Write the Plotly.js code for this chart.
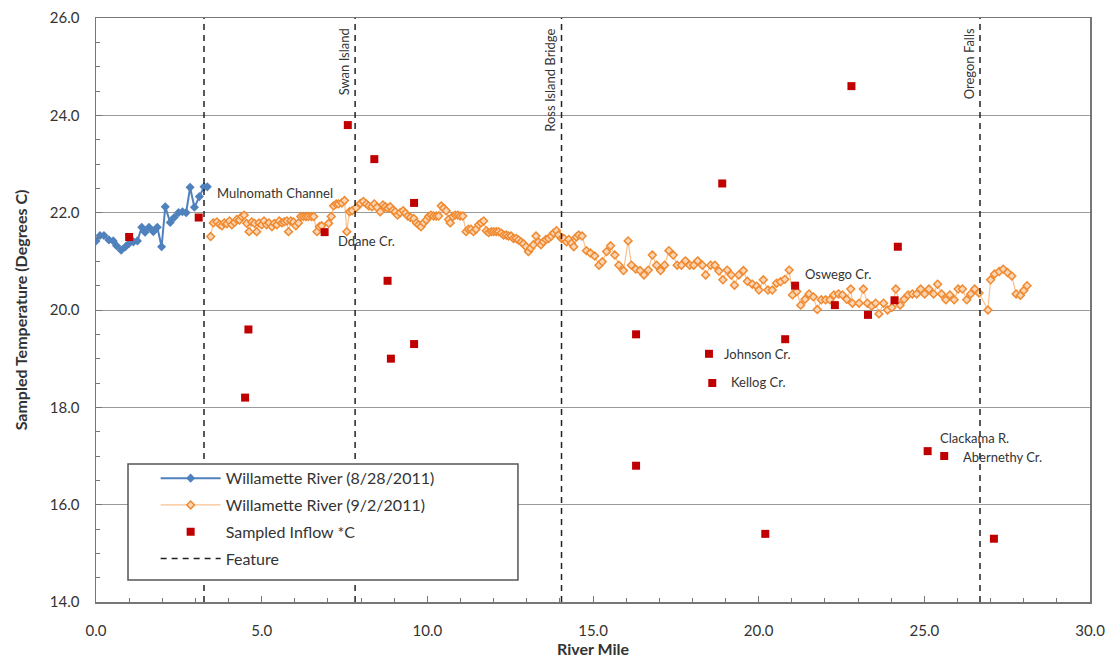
<!DOCTYPE html>
<html>
<head>
<meta charset="utf-8">
<script src="https://cdn.plot.ly/plotly-3.0.1.min.js"></script>
<style>html,body{margin:0;padding:0;background:#fff;}#chart{width:1110px;height:663px;}</style>
</head>
<body>
<div id="chart"></div>
<script>
// River mile / temperature pairs, 8/28/2011
const river0828 = [[0.0,21.42],[0.12,21.53],[0.24,21.53],[0.39,21.44],[0.52,21.42],[0.62,21.32],[0.76,21.23],[0.89,21.3],[1.0,21.37],[1.13,21.4],[1.25,21.42],[1.38,21.7],[1.48,21.6],[1.6,21.7],[1.73,21.61],[1.85,21.7],[1.98,21.3],[2.09,22.12],[2.24,21.8],[2.36,21.9],[2.49,22.0],[2.61,22.02],[2.72,22.0],[2.84,22.52],[2.97,22.11],[3.12,22.33],[3.26,22.53],[3.36,22.53]];

// River mile / temperature pairs, 9/2/2011
const river0902 = [[3.46,21.51],[3.54,21.79],[3.65,21.81],[3.73,21.76],[3.8,21.73],[3.87,21.79],[3.95,21.77],[4.03,21.83],[4.1,21.75],[4.18,21.8],[4.25,21.86],[4.33,21.85],[4.4,21.92],[4.47,21.95],[4.55,21.78],[4.62,21.61],[4.7,21.81],[4.78,21.78],[4.85,21.61],[4.92,21.79],[5.0,21.75],[5.07,21.83],[5.15,21.75],[5.22,21.79],[5.31,21.71],[5.38,21.78],[5.46,21.75],[5.53,21.83],[5.61,21.79],[5.68,21.81],[5.76,21.83],[5.81,21.61],[5.88,21.83],[5.96,21.81],[6.03,21.73],[6.11,21.79],[6.18,21.92],[6.26,21.92],[6.34,21.92],[6.41,21.92],[6.5,21.92],[6.57,21.92],[6.67,21.61],[6.74,21.71],[6.81,21.73],[7.02,21.78],[7.1,21.92],[7.17,22.14],[7.25,22.18],[7.32,22.18],[7.42,22.2],[7.5,22.25],[7.57,21.61],[7.65,22.02],[7.73,22.04],[7.85,22.1],[7.98,22.19],[8.07,22.23],[8.16,22.18],[8.23,22.14],[8.33,22.12],[8.4,22.18],[8.48,22.11],[8.58,22.02],[8.66,22.16],[8.73,22.12],[8.81,22.09],[8.88,22.12],[8.96,22.05],[9.03,22.02],
[9.1,21.95],[9.18,22.0],[9.27,22.04],[9.34,21.99],[9.41,21.93],[9.49,21.9],[9.59,21.88],[9.67,21.79],[9.74,21.75],[9.81,21.71],[9.89,21.79],[9.97,21.85],[10.04,21.92],[10.11,21.95],[10.19,21.93],[10.27,21.93],[10.34,21.93],[10.42,22.14],[10.49,22.09],[10.57,22.04],[10.64,21.86],[10.69,21.79],[10.77,21.92],[10.84,21.95],[10.92,21.95],[10.99,21.93],[11.07,21.93],[11.17,21.61],[11.24,21.66],[11.32,21.66],[11.39,21.61],[11.47,21.66],[11.55,21.75],[11.62,21.79],[11.7,21.83],[11.78,21.63],[11.85,21.59],[11.93,21.61],[12.0,21.61],[12.08,21.61],[12.15,21.61],[12.23,21.58],[12.3,21.54],[12.38,21.54],[12.45,21.52],[12.53,21.52],[12.6,21.47],[12.68,21.47],[12.75,21.44],[12.83,21.4],[12.9,21.36],[12.98,21.3],[13.05,21.2],[13.12,21.27],[13.2,21.34],[13.28,21.52],[13.35,21.4],[13.43,21.34],[13.5,21.4],[13.58,21.45],[13.66,21.47],[13.74,21.52],[13.81,21.58],[13.9,21.63],[13.96,21.54],[14.05,21.47],[14.12,21.47],[14.2,21.4],[14.27,21.45],[14.35,21.37],[14.42,21.3],[14.5,21.5],[14.57,21.54],[14.67,21.52],
[14.8,21.22],[14.92,21.17],[15.05,21.11],[15.18,20.92],[15.28,20.99],[15.41,21.2],[15.53,21.32],[15.66,21.13],[15.78,20.92],[15.92,20.81],[16.06,21.42],[16.16,20.92],[16.29,20.84],[16.42,20.81],[16.54,20.72],[16.67,20.82],[16.79,21.13],[16.92,20.92],[17.04,20.81],[17.16,20.92],[17.29,21.22],[17.42,21.13],[17.54,20.92],[17.67,20.92],[17.79,21.01],[17.92,20.92],[18.04,20.92],[18.16,21.01],[18.3,20.92],[18.4,20.72],[18.55,20.92],[18.68,20.92],[18.8,20.8],[18.92,20.62],[19.05,20.82],[19.17,20.72],[19.27,20.51],[19.4,20.72],[19.54,20.81],[19.66,20.59],[19.81,20.53],[19.94,20.49],[20.01,20.41],[20.14,20.62],[20.28,20.41],[20.41,20.41],
[20.54,20.55],[20.66,20.58],[20.79,20.63],[20.92,20.82],[21.02,20.31],[21.15,20.38],[21.27,20.1],[21.4,20.22],[21.52,20.33],[21.65,20.27],[21.77,20.01],[21.89,20.21],[22.02,20.21],[22.15,20.21],[22.27,20.31],[22.41,20.33],[22.53,20.31],[22.66,20.22],[22.78,20.43],[22.83,20.14],[23.03,20.14],[23.16,20.43],[23.28,20.14],[23.41,20.08],[23.53,20.14],[23.63,19.92],[23.77,20.14],[23.89,20.0],[24.02,20.05],[24.14,20.43],[24.27,20.1],[24.39,20.22],[24.51,20.31],[24.64,20.33],[24.77,20.33],[24.89,20.43],[25.01,20.33],[25.14,20.43],[25.28,20.33],[25.4,20.53],[25.52,20.33],[25.65,20.21],[25.77,20.31],[25.9,20.21],[26.02,20.43],[26.15,20.43],[26.28,20.21],[26.4,20.33],[26.52,20.43],[26.65,20.35],[26.92,20.0],[27.0,20.62],[27.12,20.74],[27.26,20.79],[27.38,20.84],[27.51,20.77],[27.64,20.7],[27.77,20.33],[27.9,20.3],[28.0,20.4],[28.1,20.5]];

// Sampled inflows (river mile, °C)
const inflowMiles = [1.0,3.1,4.5,4.6,6.9,7.6,8.4,8.8,8.9,9.6,9.6,16.3,16.3,18.5,18.6,18.9,20.2,20.8,21.1,22.3,22.8,23.3,24.1,24.2,25.1,25.6,27.1];
const inflowTemps = [21.5,21.9,18.2,19.6,21.6,23.8,23.1,20.6,19.0,22.2,19.3,19.5,16.8,19.1,18.5,22.6,15.4,19.4,20.5,20.1,24.6,19.9,20.2,21.3,17.1,17.0,15.3];

// Features (vertical dashed lines)
const featureMiles = [3.26, 7.82, 14.05, 26.68];
const featureNames = ["", "Swan Island", "Ross Island Bridge", "Oregon Falls"];

// Inflow labels: text, mile, temperature
const inflowLabels = [
  ["Mulnomath Channel", 3.6, 22.4],
  ["Ddane Cr.", 7.25, 21.42],
  ["Johnson Cr.", 18.9, 19.1],
  ["Kellog Cr.", 19.1, 18.52],
  ["Oswego Cr.", 21.35, 20.73],
  ["Clackama R.", 25.4, 17.37],
  ["Abernethy Cr.", 26.1, 16.98]
];

const yRange = [14, 26];
const xRange = [0, 30];

const fx = [], fy = [];
featureMiles.forEach((m, i) => { fx.push(m, m, null); fy.push(yRange[0], yRange[1], null); });

const FONT = "Lato, 'Open Sans', sans-serif";
const traces = [
  {x: river0828.map(p => p[0]), y: river0828.map(p => p[1]), mode: 'lines+markers', name: 'Willamette River (8/28/2011)',
   legendgroup: 'a', line: {color: '#4F81BD', width: 2}, marker: {symbol: 'diamond', size: 7, color: '#4F81BD'}},
  {x: river0902.map(p => p[0]), y: river0902.map(p => p[1]), mode: 'lines+markers', name: 'Willamette River (9/2/2011)',
   legendgroup: 'b', line: {color: '#FAC090', width: 1.2}, marker: {symbol: 'diamond', size: 6, color: '#FCD5B4', line: {color: '#F08A30', width: 1.5}}},
  {x: inflowMiles, y: inflowTemps, mode: 'markers', name: 'Sampled Inflow *C', legendgroup: 'c',
   marker: {symbol: 'square', size: 8, color: '#C00000'}},
  {x: fx, y: fy, mode: 'lines', name: 'Feature', legendgroup: 'd', line: {color: '#222', width: 1.5, dash: '6px,5px'}, hoverinfo: 'skip'}
];

const annotations = [];
inflowLabels.forEach(l => annotations.push({x: l[1], y: l[2], text: l[0], showarrow: false, xanchor: 'left', yanchor: 'middle',
  font: {family: FONT, size: 13, color: '#333'}}));
featureMiles.forEach((m, i) => {
  if (!featureNames[i]) return;
  annotations.push({x: m, y: 25.82, text: featureNames[i], showarrow: false, textangle: -90, xanchor: 'right', yanchor: 'top',
    xshift: -1, font: {family: FONT, size: 13, color: '#333'}});
});

const layout = {
  width: 1110, height: 663,
  margin: {l: 96, r: 20, t: 18, b: 61},
  paper_bgcolor: '#fff', plot_bgcolor: '#fff',
  font: {family: FONT, color: '#333'},
  showlegend: true,
  legend: {x: 0.06, y: 0.241, xanchor: 'left', yanchor: 'top', bgcolor: 'rgba(0,0,0,0)', borderwidth: 0,
    font: {family: FONT, size: 16, color: '#333'}, tracegroupgap: 3, itemwidth: 60},
  shapes: [{type: 'rect', xref: 'paper', yref: 'paper', x0: 0.0322, x1: 0.4245, y0: 0.0377, y1: 0.2363,
    fillcolor: '#fff', line: {color: '#555', width: 1.5}, layer: 'above'}],
  xaxis: {range: xRange, dtick: 5, tickformat: '.1f', showgrid: false, zeroline: false, showline: true, linecolor: '#777', linewidth: 1.5,
    mirror: true, ticks: 'inside', ticklen: 6, tickcolor: '#777', ticklabelstandoff: 14,
    minor: {dtick: 1, ticks: 'inside', ticklen: 4, tickcolor: '#777'},
    tickfont: {family: FONT, size: 15, color: '#333'},
    title: {text: '<b>River Mile</b>', font: {family: FONT, size: 16, color: '#333'}, standoff: 6}},
  yaxis: {range: yRange, dtick: 2, tickformat: '.1f', showgrid: true, gridcolor: '#999', gridwidth: 1, zeroline: false, showline: true,
    linecolor: '#777', linewidth: 1.5, mirror: true, ticks: 'inside', ticklen: 6, tickcolor: '#777', ticklabelstandoff: 12,
    minor: {dtick: 0.5, ticks: 'inside', ticklen: 4, tickcolor: '#777'},
    tickfont: {family: FONT, size: 15, color: '#333'},
    title: {text: '<b>Sampled Temperature (Degrees C)</b>', font: {family: FONT, size: 16, color: '#333'}, standoff: 18}},
  annotations: annotations
};

Plotly.newPlot('chart', traces, layout, {displayModeBar: false, staticPlot: true});
</script>
</body>
</html>
